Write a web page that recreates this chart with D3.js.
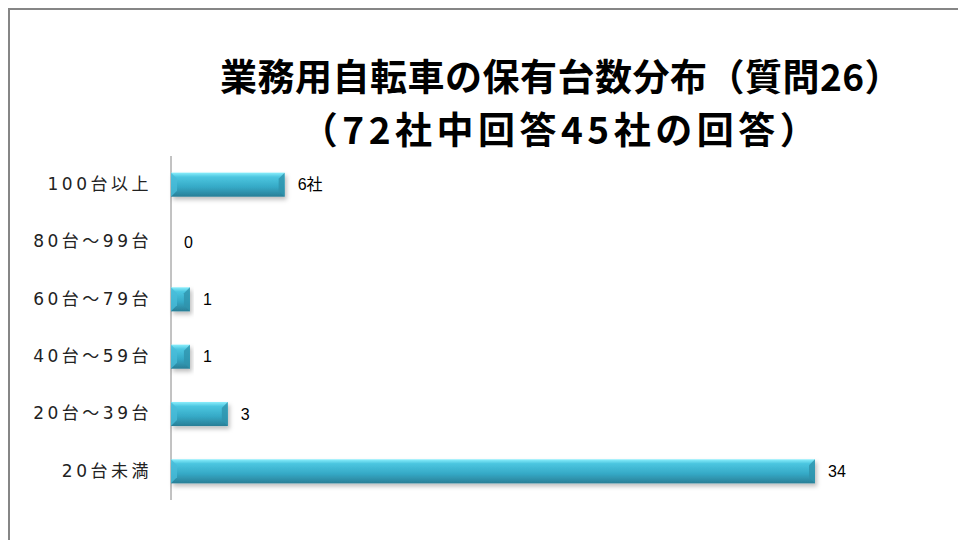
<!DOCTYPE html>
<meta charset="utf-8">
<style>
  body { margin: 0; background: #fff; }
  svg { display: block; }
</style>
<svg></svg>
<script src="https://d3js.org/d3.v7.min.js"></script>
<script>

// data
var categories = ["100台以上", "80台～99台", "60台～79台", "40台～59台", "20台～39台", "20台未満"]
var values = [6, 0, 1, 1, 3, 34]
var valueLabels = ["6社", "0", "1", "1", "3", "34"]
var titleLines = ["業務用自転車の保有台数分布（質問26）", "（72社中回答45社の回答）"]

var width = 958
var height = 540

var svg = d3.select("svg")
    .attr("width", width)
    .attr("height", height)

// outer frame (runs off the right and bottom)
svg.append("rect")
    .attr("x", 9)
    .attr("y", 9)
    .attr("width", width)
    .attr("height", height)
    .attr("fill", "none")
    .attr("stroke", "#868686")
    .attr("stroke-width", 2)

var defs = svg.append("defs")

var grad = defs.append("linearGradient")
    .attr("id", "barGrad")
    .attr("x1", 0).attr("y1", 0).attr("x2", 0).attr("y2", 1)
grad.append("stop").attr("offset", "0%").attr("stop-color", "#8aeefc")
grad.append("stop").attr("offset", "18%").attr("stop-color", "#4cc6e0")
grad.append("stop").attr("offset", "60%").attr("stop-color", "#35a9c6")
grad.append("stop").attr("offset", "100%").attr("stop-color", "#2a7e96")

var shadow = defs.append("filter")
    .attr("id", "shadow")
    .attr("x", "-10%").attr("y", "-30%")
    .attr("width", "130%").attr("height", "180%")
shadow.append("feDropShadow")
    .attr("dx", 2).attr("dy", 3)
    .attr("stdDeviation", 2)
    .attr("flood-color", "#000")
    .attr("flood-opacity", 0.25)

// title
svg.append("g")
    .selectAll("text")
    .data(titleLines)
    .enter().append("text")
    .attr("x", 561)
    .attr("y", function (d, i) { return 91 + i * 53 })
    .attr("text-anchor", "middle")
    .style("letter-spacing", function (d, i) { return i ? "4.5px" : "0.5px" })
    .style("font-family", "'Noto Sans CJK JP', sans-serif")
    .style("font-weight", "bold")
    .style("font-size", "37px")
    .attr("fill", "#000")
    .text(function (d) { return d })

// scales
var x = d3.scaleLinear()
    .domain([0, 34])
    .range([171, 815])

var y = d3.scaleBand()
    .domain(categories)
    .range([156, 500])
    .paddingInner(0.58)
    .paddingOuter(0.29)

// category axis
var axis = svg.append("g")
    .attr("transform", "translate(171,0)")
    .call(d3.axisLeft(y).tickSize(0).tickPadding(19))
axis.select(".domain")
    .attr("stroke", "#868686")
    .attr("d", "M0,156V500")
axis.selectAll("text")
    .style("font-family", "'DejaVu Sans', 'Noto Sans CJK JP', sans-serif")
    .style("font-size", "17px")
    .style("letter-spacing", "3.5px")
    .attr("fill", "#222")

// bars
var rows = categories.map(function (c, i) {
  return { cat: c, value: values[i], label: valueLabels[i] }
})

var bars = svg.append("g")
    .selectAll("g")
    .data(rows)
    .enter().append("g")

bars.filter(function (d) { return d.value > 0 })
  .append("rect")
    .attr("x", x(0))
    .attr("y", function (d) { return y(d.cat) })
    .attr("width", function (d) { return x(d.value) - x(0) })
    .attr("height", y.bandwidth())
    .attr("fill", "url(#barGrad)")
    .attr("filter", "url(#shadow)")

// bevel on the bar ends
bars.filter(function (d) { return d.value > 0 })
  .append("path")
    .attr("d", function (d) {
      var x1 = x(d.value), y0 = y(d.cat), h = y.bandwidth(), b = Math.min(6, (x1 - x(0)) / 2)
      return "M" + x1 + "," + y0 + "L" + (x1 - b) + "," + (y0 + b) + "L" + (x1 - b) + "," + (y0 + h - b) + "L" + x1 + "," + (y0 + h) + "Z"
    })
    .attr("fill", "#2f93ad")
    .attr("opacity", 0.8)

bars.filter(function (d) { return d.value > 0 })
  .append("path")
    .attr("d", function (d) {
      var x0 = x(0), y0 = y(d.cat), h = y.bandwidth(), b = Math.min(6, (x(d.value) - x0) / 2)
      return "M" + x0 + "," + y0 + "L" + (x0 + b) + "," + (y0 + b) + "L" + (x0 + b) + "," + (y0 + h - b) + "L" + x0 + "," + (y0 + h) + "Z"
    })
    .attr("fill", "#49bcd8")
    .attr("opacity", 0.8)

// value labels
bars.append("text")
    .attr("x", function (d) { return x(d.value) + 13 })
    .attr("y", function (d) { return y(d.cat) + y.bandwidth() / 2 })
    .attr("dy", "0.36em")
    .style("font-family", "'Liberation Sans', 'Noto Sans CJK JP', sans-serif")
    .style("font-size", "16px")
    .attr("fill", "#000")
    .text(function (d) { return d.label })

</script>
